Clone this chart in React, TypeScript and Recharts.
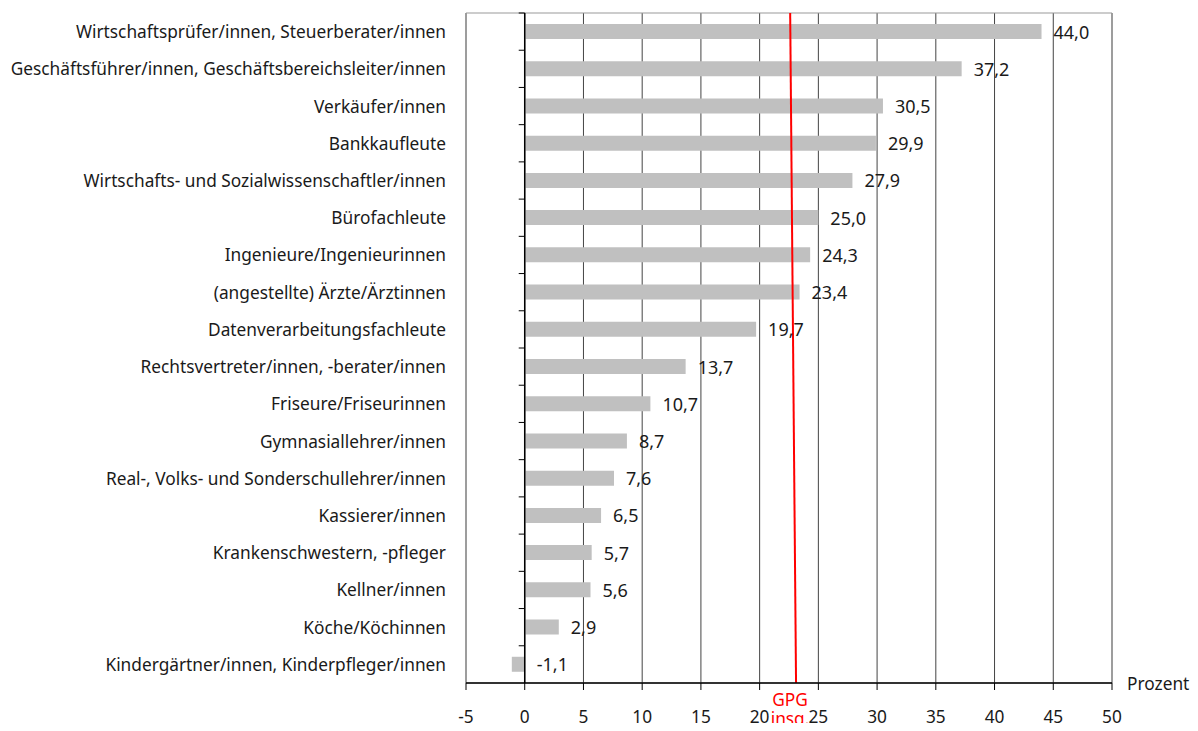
import React from "react";
import {
  BarChart,
  Bar,
  XAxis,
  YAxis,
  CartesianGrid,
  ReferenceLine,
  ReferenceArea,
  LabelList,
  Label,
} from "recharts";

const categories = [
  "Wirtschaftsprüfer/innen, Steuerberater/innen",
  "Geschäftsführer/innen, Geschäftsbereichsleiter/innen",
  "Verkäufer/innen",
  "Bankkaufleute",
  "Wirtschafts- und Sozialwissenschaftler/innen",
  "Bürofachleute",
  "Ingenieure/Ingenieurinnen",
  "(angestellte) Ärzte/Ärztinnen",
  "Datenverarbeitungsfachleute",
  "Rechtsvertreter/innen, -berater/innen",
  "Friseure/Friseurinnen",
  "Gymnasiallehrer/innen",
  "Real-, Volks- und Sonderschullehrer/innen",
  "Kassierer/innen",
  "Krankenschwestern, -pfleger",
  "Kellner/innen",
  "Köche/Köchinnen",
  "Kindergärtner/innen, Kinderpfleger/innen",
];

const gaps = [
  44.0, 37.2, 30.5, 29.9, 27.9, 25.0, 24.3, 23.4, 19.7, 13.7, 10.7, 8.7, 7.6,
  6.5, 5.7, 5.6, 2.9, -1.1,
];

const xTicks = [-5, 0, 5, 10, 15, 20, 25, 30, 35, 40, 45, 50];

// overall gender pay gap ("GPG insg."); the original line leans a little
const gpgTop = 22.6;
const gpgBottom = 23.1;
const gpgMid = 22.85;

const data = categories.map((name, i) => ({ name, gap: gaps[i] }));

const W = 1198;
const H = 731;
const MARGIN = { top: 13, right: 86, bottom: 8, left: 0 };
const Y_AXIS_W = 466;
const X_AXIS_H = 40;
const X_MIN = -5;
const X_MAX = 50;
const PLOT_W = W - MARGIN.left - MARGIN.right - Y_AXIS_W;
const PLOT_H = H - MARGIN.top - MARGIN.bottom - X_AXIS_H;
const PLOT_LEFT = MARGIN.left + Y_AXIS_W;
const PX_PER_UNIT = PLOT_W / (X_MAX - X_MIN);
const ZERO_X = PLOT_LEFT + (0 - X_MIN) * PX_PER_UNIT;
const BAND = PLOT_H / categories.length;

const FONT = "'Noto Sans', sans-serif";
const FS = 17.3;
const FS_VAL = 18;

const fmt = (v: number) => v.toFixed(1).replace(".", ",");

const CategoryTick = (props: any) => {
  const { x, y, payload } = props;
  return (
    <g>
      <text
        x={x}
        y={y}
        textAnchor="end"
        dominantBaseline="central"
        fontSize={FS}
        fontFamily={FONT}
        fill="#1a1a1a"
      >
        {payload.value}
      </text>
      <line
        x1={ZERO_X - 6}
        x2={ZERO_X}
        y1={y - BAND / 2}
        y2={y - BAND / 2}
        stroke="#000"
        strokeWidth={1}
      />
    </g>
  );
};

const ValueLabel = (props: any) => {
  const { x, y, width, height, value } = props;
  const right = Math.max(x, x + width);
  return (
    <text
      x={right + 12}
      y={y + height / 2}
      dominantBaseline="central"
      fontSize={FS_VAL}
      fontFamily={FONT}
      fill="#1a1a1a"
    >
      {fmt(Number(value))}
    </text>
  );
};

const ProzentLabel = (props: any) => {
  const vb = props.viewBox || {};
  return (
    <text
      x={vb.x + vb.width + 15}
      y={vb.y}
      dominantBaseline="central"
      fontSize={FS}
      fontFamily={FONT}
      fill="#1a1a1a"
    >
      Prozent
    </text>
  );
};

const GpgLine = (props: any) => {
  const { x1, y1, y2 } = props;
  const top = Math.min(y1, y2);
  const bottom = Math.max(y1, y2);
  const xt = x1 + (gpgTop - gpgMid) * PX_PER_UNIT;
  const xb = x1 + (gpgBottom - gpgMid) * PX_PER_UNIT;
  const cx = xb - 6;
  return (
    <g>
      <line x1={xt} y1={top} x2={xb} y2={bottom} stroke="#ff0000" strokeWidth={2} />
      <text
        textAnchor="middle"
        fontSize={FS}
        fontFamily={FONT}
        fill="#ff0000"
      >
        <tspan x={cx} y={bottom + 16} dominantBaseline="central">
          GPG
        </tspan>
        <tspan x={cx} y={bottom + 35} dominantBaseline="central">
          insg.
        </tspan>
      </text>
    </g>
  );
};

export default function App() {
  return (
    <div style={{ width: W, height: H, margin: -8, overflow: "hidden" }}>
      <BarChart
        width={W}
        height={H}
        data={data}
        layout="vertical"
        margin={MARGIN}
      >
        <CartesianGrid horizontal={false} stroke="#444" />
        <ReferenceArea
          x1={X_MIN}
          x2={X_MAX}
          fill="none"
          stroke="#999"
          strokeWidth={1}
          fillOpacity={0}
        />
        <XAxis
          type="number"
          domain={[X_MIN, X_MAX]}
          ticks={xTicks}
          height={X_AXIS_H}
          axisLine={{ stroke: "#000", strokeWidth: 1.5 }}
          tickLine={{ stroke: "#000" }}
          tickSize={7}
          tickMargin={21}
          tick={{ fill: "#1a1a1a", fontSize: FS, fontFamily: FONT }}
        >
          <Label content={ProzentLabel} />
        </XAxis>
        <YAxis
          type="category"
          dataKey="name"
          width={Y_AXIS_W}
          axisLine={false}
          tickLine={false}
          tickSize={0}
          tickMargin={20}
          interval={0}
          tick={<CategoryTick />}
        />
        <Bar
          dataKey="gap"
          fill="#c0c0c0"
          barSize={15}
          isAnimationActive={false}
        >
          <LabelList dataKey="gap" content={ValueLabel} />
        </Bar>
        <ReferenceLine x={0} stroke="#000" strokeWidth={1.5} />
        <ReferenceLine x={gpgMid} shape={GpgLine} />
      </BarChart>
    </div>
  );
}
